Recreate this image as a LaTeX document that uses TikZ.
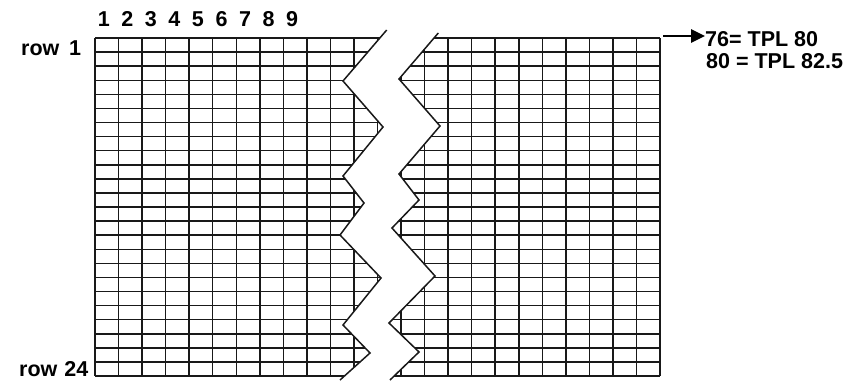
\documentclass[tikz,border=0pt]{standalone}
\usepackage{fontspec}
\setmainfont{Liberation Sans}
\usetikzlibrary{arrows.meta}
\begin{document}
\begin{tikzpicture}[x=1pt,y=-1pt,
  gridline/.style={line width=1.5pt,black!90},
  breakline/.style={line width=1.5pt,black!90,line join=miter},
  lbl/.style={inner sep=0pt,font=\fontsize{21.5}{25}\selectfont\bfseries},
  arrowline/.style={line width=2.6pt,-{Triangle[length=14pt,width=13pt]}}]
\useasboundingbox (0,0) rectangle (845,381);
% grid
\foreach \i in {0,...,24}{
  \draw[gridline] (95,{38+\i*14.0833}) -- (660,{38+\i*14.0833});
  \draw[gridline] ({95+\i*23.5417},38) -- ({95+\i*23.5417},376);
}
% break region
\fill[white] (386.7,30) -- (343,81) -- (383,127) -- (343,176) -- (364,203) -- (340,235) -- (381,278) -- (343,325) -- (370,353) -- (340,380)
  -- (390,380) -- (419,352) -- (389,323) -- (435,276) -- (392,228) -- (419,200) -- (399,174) -- (440,126) -- (399,79) -- (438.3,33) -- cycle;
\draw[breakline] (386.7,30) -- (343,81) -- (383,127) -- (343,176) -- (364,203) -- (340,235) -- (381,278) -- (343,325) -- (370,353) -- (340,380);
\draw[breakline] (438.3,33) -- (399,79) -- (440,126) -- (399,174) -- (419,200) -- (392,228) -- (435,276) -- (389,323) -- (419,352) -- (390,380);
% column numbers
\foreach \c in {1,...,9}{
  \node[lbl,anchor=base] (col\c) at ({95+(\c-0.5)*23.5417-3},26.5) {\c};
}
% row labels
\node[lbl,anchor=base west] (row1) at (21,55) {row\hspace{0.45em}1};
\node[lbl,anchor=base west] (row24) at (19,376.5) {row\hspace{0.32em}24};
% right labels
\node[lbl,anchor=base west] (tplA) at (705,46.5) {76= TPL 80};
\node[lbl,anchor=base west] (tplB) at (706,68) {80 = TPL 82.5};
\coordinate (astart) at (663,36);
\draw[arrowline] (astart) -- (astart -| tplA.west);
\end{tikzpicture}
\end{document}
